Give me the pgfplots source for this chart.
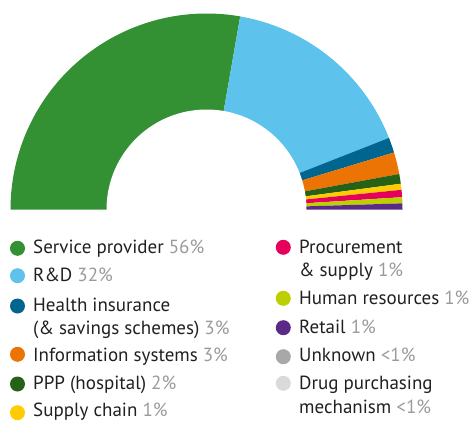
\documentclass[border=0pt]{standalone}
\usepackage{pgfplots}
\pgfplotsset{compat=1.18}
\usepackage{pgfplotstable}
\usepackage{fontspec}
\setmainfont{PT Sans}

\definecolor{cService}{HTML}{339133}
\definecolor{cRD}{HTML}{5DC3EC}
\definecolor{cHealth}{HTML}{00668F}
\definecolor{cInfo}{HTML}{EC7404}
\definecolor{cPPP}{HTML}{256218}
\definecolor{cSupply}{HTML}{FFCC00}
\definecolor{cProc}{HTML}{E5005A}
\definecolor{cHR}{HTML}{BCCF00}
\definecolor{cRetail}{HTML}{5B2A86}
\definecolor{cUnknown}{HTML}{A8A8A8}
\definecolor{cDrug}{HTML}{DADADA}
\definecolor{txt}{HTML}{231F20}
\definecolor{pct}{HTML}{9A9A9A}

% share of each slice in percent (half circle = 100)
\pgfplotstableread[col sep=comma]{
share,color
55.5,cService
32.6,cRD
2.5,cHealth
3.6,cInfo
1.6,cPPP
1.0,cSupply
1.2,cProc
1.0,cHR
1.0,cRetail
0,cUnknown
0,cDrug
}\slices

\newcommand{\ldot}[3]{\fill[#1] (axis cs:#2,421-#3) circle (7.5pt);}
\newcommand{\lbl}[3]{\node[anchor=base west, inner sep=0pt, text=txt] at (axis cs:#1,421-#2) {#3};}

\begin{document}
\begin{tikzpicture}
\begin{axis}[width=473pt, height=421pt, scale only axis,
    xmin=0, xmax=473, ymin=0, ymax=421, hide axis, clip=false]
  \def\acc{0}
  \pgfplotsforeachungrouped \i in {0,...,10}{%
    \pgfplotstablegetelem{\i}{share}\of\slices
    \let\v\pgfplotsretval
    \ifdim\v pt>0pt
      \pgfmathsetmacro\a{180-1.8*\acc}
      \pgfmathsetmacro\acc{\acc+\v}
      \pgfmathsetmacro\b{180-1.8*\acc}
      \pgfplotstablegetelem{\i}{color}\of\slices
      \edef\next{\noexpand\addplot[draw=none, fill=\pgfplotsretval, domain=\b:\a, samples=80]
        ({206.5+196*cos(x)},{211.5+196*sin(x)}) -- (206.5,211.5) -- cycle;}
      \next
    \fi
  }
  % hole of the donut
  \addplot[draw=none, fill=white, domain=-4:184, samples=90]
    ({206.5+100*cos(x)},{211.5+100*sin(x)}) -- cycle;

  \fontsize{19}{22}\selectfont
  % left column
  \ldot{cService}{17.5}{248.3}
  \lbl{33}{253.5}{Service provider \textcolor{pct}{56\%}}
  \ldot{cRD}{17.5}{275.7}
  \lbl{33}{281.5}{R\&D \textcolor{pct}{32\%}}
  \ldot{cHealth}{17.5}{306}
  \lbl{33}{311.5}{Health insurance}
  \lbl{33}{334.5}{(\& savings schemes) \textcolor{pct}{3\%}}
  \ldot{cInfo}{17.5}{354.3}
  \lbl{33}{361.5}{Information systems \textcolor{pct}{3\%}}
  \ldot{cPPP}{17.5}{384}
  \lbl{33}{389.5}{PPP (hospital) \textcolor{pct}{2\%}}
  \ldot{cSupply}{17.5}{412.7}
  \lbl{33}{416.5}{Supply chain \textcolor{pct}{1\%}}
  % right column
  \ldot{cProc}{283.3}{247.3}
  \lbl{299}{253.5}{Procurement}
  \lbl{299}{276.5}{\& supply \textcolor{pct}{1\%}}
  \ldot{cHR}{283.3}{298.3}
  \lbl{299}{304}{Human resources \textcolor{pct}{1\%}}
  \ldot{cRetail}{283.3}{327.7}
  \lbl{299}{333}{Retail \textcolor{pct}{1\%}}
  \ldot{cUnknown}{283.3}{356.7}
  \lbl{299}{361.5}{Unknown \textcolor{pct}{<1\%}}
  \ldot{cDrug}{283.3}{383.3}
  \lbl{299}{389}{Drug purchasing}
  \lbl{299}{413}{mechanism \textcolor{pct}{<1\%}}
\end{axis}
\pgfresetboundingbox
\path (current axis.south west) rectangle (current axis.north east);
\end{tikzpicture}
\end{document}
